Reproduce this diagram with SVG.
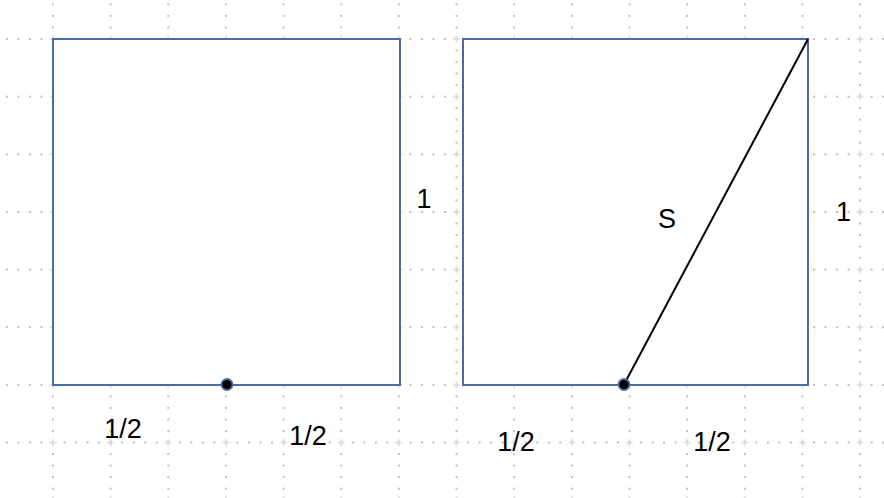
<svg xmlns="http://www.w3.org/2000/svg" width="884" height="498" viewBox="0 0 884 498">
<style>
.box{fill:#ffffff;stroke:#4a6ba3;stroke-width:2}
.lbl{font-family:"Liberation Sans",Arial,sans-serif;font-size:27px;fill:#000;text-anchor:middle}
.pt{fill:#000;stroke:#4a6ba3;stroke-width:1.8}
.seg{stroke:#000;stroke-width:2;fill:none}
</style>
<defs>
<pattern id="vdots" patternUnits="userSpaceOnUse" x="52" y="3.4" width="57.65" height="11.53">
<rect x="0" y="0" width="2" height="2" fill="#bfbfbf"/>
</pattern>
<pattern id="hdots" patternUnits="userSpaceOnUse" x="5.9" y="38" width="11.53" height="57.65">
<rect x="0" y="0" width="2" height="2" fill="#bfbfbf"/>
</pattern>
<pattern id="plus" patternUnits="userSpaceOnUse" x="49" y="35" width="57.65" height="57.65">
<path d="M0.5,4H7.5M4,0.5V7.5" stroke="#dadada" stroke-width="1.6" fill="none"/>
</pattern>
</defs>
<rect width="884" height="498" fill="#ffffff"/>
<g id="grid">
<rect width="884" height="498" fill="url(#vdots)"/>
<rect width="884" height="498" fill="url(#hdots)"/>
<rect width="884" height="498" fill="url(#plus)"/>
</g>
<g id="square-left">
<rect class="box" x="53" y="39" width="347" height="346"/>
</g>
<g id="square-right">
<rect class="box" x="463" y="39" width="345" height="346"/>
</g>
<g id="connectors">
<line class="seg" x1="624" y1="384.5" x2="808" y2="39"/>
</g>
<g id="point-left">
<circle class="pt" cx="227" cy="384.5" r="5.5"/>
</g>
<g id="point-right">
<circle class="pt" cx="624" cy="384.5" r="5.5"/>
</g>
<g id="labels">
<text class="lbl" x="123" y="437.5">1/2</text>
<text class="lbl" x="308" y="444.5">1/2</text>
<text class="lbl" x="424" y="208">1</text>
<text class="lbl" x="516" y="450.5">1/2</text>
<text class="lbl" x="712" y="450.5">1/2</text>
<text class="lbl" x="667" y="227.5">S</text>
<text class="lbl" x="843.5" y="221">1</text>
</g>
</svg>
